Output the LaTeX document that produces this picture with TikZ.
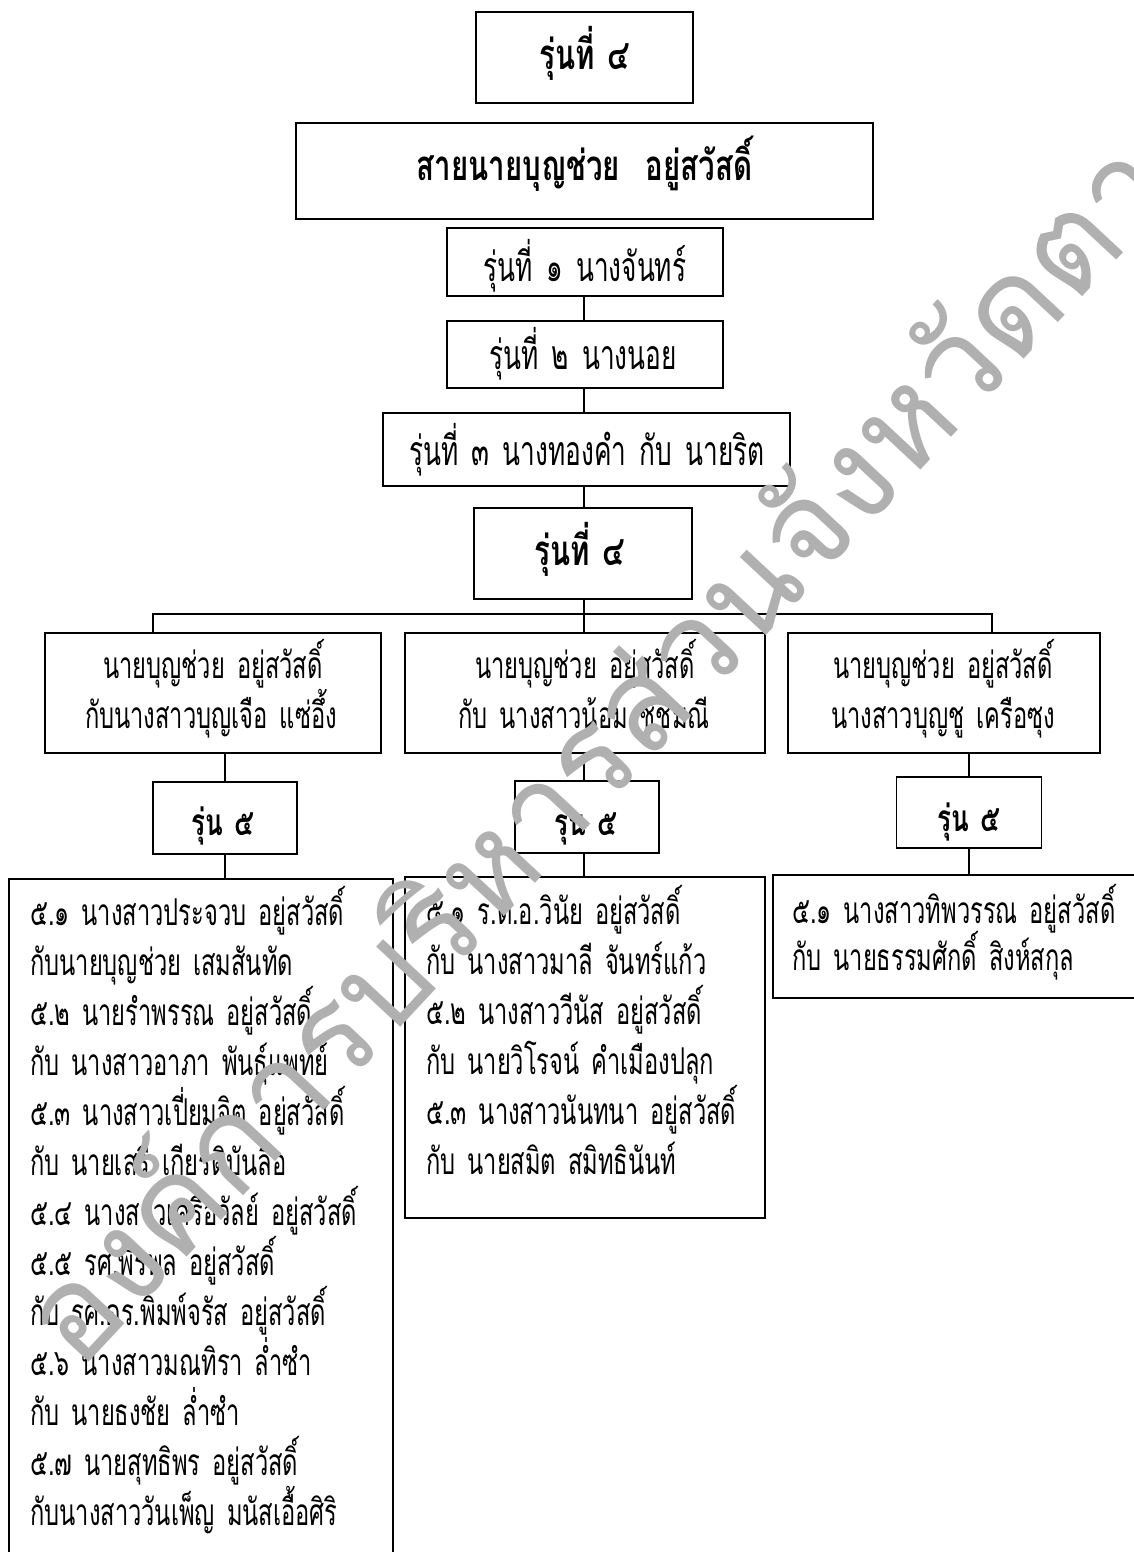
\documentclass[tikz,border=0pt]{standalone}
\usepackage{fontspec}
\newfontfamily\thai[Script=Thai,FakeStretch=0.64,WordSpace=1.5]{Loma}
\newfontfamily\thaiB[Script=Thai,FakeStretch=0.7,WordSpace=1.3]{Loma}
\newfontfamily\thaiW[Script=Thai]{Loma}
\definecolor{wmgray}{RGB}{176,176,176}
\tikzset{
  box/.style={draw, line width=1.8pt, inner sep=0pt, outer sep=0pt},
  conn/.style={line width=1.3pt},
  txt/.style={anchor=base, inner sep=0pt, font=\thai\fontsize{37}{40}\selectfont},
  gen/.style={anchor=base, inner sep=0pt, font=\thai\fontsize{41}{44}\selectfont},
  head/.style={anchor=base, inner sep=0pt, font=\thaiB\bfseries\fontsize{42}{44}\selectfont},
  rfive/.style={anchor=base, inner sep=0pt, font=\thaiB\bfseries\fontsize{37}{40}\selectfont},
  lst/.style={anchor=base west, inner sep=0pt, font=\thai\fontsize{37}{40}\selectfont},
  wmk/.style={inner sep=0pt, rotate=47, text=wmgray, font=\thaiW\fontsize{130}{130}\selectfont},
}
\begin{document}
\begin{tikzpicture}[x=1pt,y=-1pt]
\useasboundingbox (0,0) rectangle (1134,1552);
% boxes
\node[box, minimum width=217pt, minimum height=91pt] (gA) at (584.5,57.5) {};
\node[box, minimum width=577pt, minimum height=96pt] (gB) at (584.5,171) {};
\node[box, minimum width=276pt, minimum height=68pt] (g1) at (585,262) {};
\node[box, minimum width=276pt, minimum height=67pt] (g2) at (585,354.5) {};
\node[box, minimum width=407pt, minimum height=73pt] (g3) at (586.5,449.5) {};
\node[box, minimum width=218pt, minimum height=91pt] (g4) at (583,553.5) {};
\node[box, minimum width=336pt, minimum height=120pt] (p1) at (213,693) {};
\node[box, minimum width=360pt, minimum height=120pt] (p2) at (585,693) {};
\node[box, minimum width=312pt, minimum height=120pt] (p3) at (944,693) {};
\node[box, minimum width=144pt, minimum height=72pt] (r1) at (225,818) {};
\node[box, minimum width=144pt, minimum height=72pt] (r2) at (587,817) {};
\node[box, minimum width=145pt, minimum height=71pt] (r3) at (969,812.5) {};
\node[box, minimum width=384pt, minimum height=686pt] (l1) at (201,1222) {};
\node[box, minimum width=360pt, minimum height=341pt] (l2) at (585,1047.5) {};
\node[box, minimum width=372pt, minimum height=123pt] (l3) at (959,936.5) {};
% connectors
\coordinate (barL) at (153,614);
\coordinate (barR) at (992,614);
\coordinate (col) at (584,0);
\draw[conn] (col |- g1.south) -- (col |- g2.north);
\draw[conn] (col |- g2.south) -- (col |- g3.north);
\draw[conn] (col |- g3.south) -- (col |- g4.north);
\draw[conn] (col |- g4.south) -- (col |- p2.north);
\draw[conn] (barL |- p1.north) -- (barL) -- (barR) -- (barR |- p3.north);
\draw[conn] (r1.north) -- (r1.north |- p1.south);
\draw[conn] (r1.south) -- (r1.south |- l1.north);
\draw[conn] (col |- r2.north) -- (col |- p2.south);
\draw[conn] (col |- r2.south) -- (col |- l2.north);
\draw[conn] (r3.north) -- (r3.north |- p3.south);
\draw[conn] (r3.south) -- (r3.south |- l3.north);
% texts
\node[head] (tA) at (584.5,70) {รุ่นที่ ๔};
\node[head] (tB) at (584.5,180) {สายนายบุญช่วย\ \ อยู่สวัสดิ์};
\node[gen] (t1) at (585,281) {รุ่นที่ ๑ นางจันทร์};
\node[gen] (t2) at (583,369) {รุ่นที่ ๒ นางนอย};
\node[gen] (t3) at (587,465) {รุ่นที่ ๓ นางทองคำ กับ นายริต};
\node[head] (t4) at (580,565) {รุ่นที่ ๔};
\node[txt] (p1a) at (213,678) {นายบุญช่วย อยู่สวัสดิ์};
\node[txt] (p1b) at (211,728) {กับนางสาวบุญเจือ แซ่อึ้ง};
\node[txt] (p2a) at (585,678) {นายบุญช่วย อยู่สวัสดิ์};
\node[txt] (p2b) at (584,728) {กับ นางสาวน้อม ชัชมณี};
\node[txt] (p3a) at (943,678) {นายบุญช่วย อยู่สวัสดิ์};
\node[txt] (p3b) at (943,728) {นางสาวบุญชู เครือซุง};
\node[rfive] (r1t) at (223,835) {รุ่น ๕};
\node[rfive] (r2t) at (586,835) {รุ่น ๕};
\node[rfive] (r3t) at (969,831) {รุ่น ๕};
% left list
\foreach \t [count=\i] in {
  {๕.๑ นางสาวประจวบ อยู่สวัสดิ์},
  {กับนายบุญช่วย เสมสันทัด},
  {๕.๒ นายรำพรรณ อยู่สวัสดิ์},
  {กับ นางสาวอาภา พันธุ์แพทย์},
  {๕.๓ นางสาวเปี่ยมจิต อยู่สวัสดิ์},
  {กับ นายเสรี เกียรติบันลือ},
  {๕.๔ นางสาวเครือวัลย์ อยู่สวัสดิ์},
  {๕.๕ รศ.พีรพล อยู่สวัสดิ์},
  {กับ รศ.ดร.พิมพ์จรัส อยู่สวัสดิ์},
  {๕.๖ นางสาวมณทิรา ล่ำซำ},
  {กับ นายธงชัย ล่ำซำ},
  {๕.๗ นายสุทธิพร อยู่สวัสดิ์},
  {กับนางสาววันเพ็ญ มนัสเอื้อศิริ}}
  \node[lst] (la\i) at (30,{925+50*(\i-1)}) {\t};
% middle list
\foreach \t [count=\i] in {
  {๕.๑ ร.ต.อ.วินัย อยู่สวัสดิ์},
  {กับ นางสาวมาลี จันทร์แก้ว},
  {๕.๒ นางสาววีนัส อยู่สวัสดิ์},
  {กับ นายวิโรจน์ คำเมืองปลุก},
  {๕.๓ นางสาวนันทนา อยู่สวัสดิ์},
  {กับ นายสมิต สมิทธินันท์}}
  \node[lst] (lb\i) at (426,{924+50*(\i-1)}) {\t};
% right list
\node[lst] (lc1) at (792,923) {๕.๑ นางสาวทิพวรรณ อยู่สวัสดิ์};
\node[lst] (lc2) at (792,970) {กับ นายธรรมศักดิ์ สิงห์สกุล};
% watermark
\node[wmk] (wm) at (615,715) {องค์การบริหารส่วนจังหวัดตาก};
\end{tikzpicture}
\end{document}
